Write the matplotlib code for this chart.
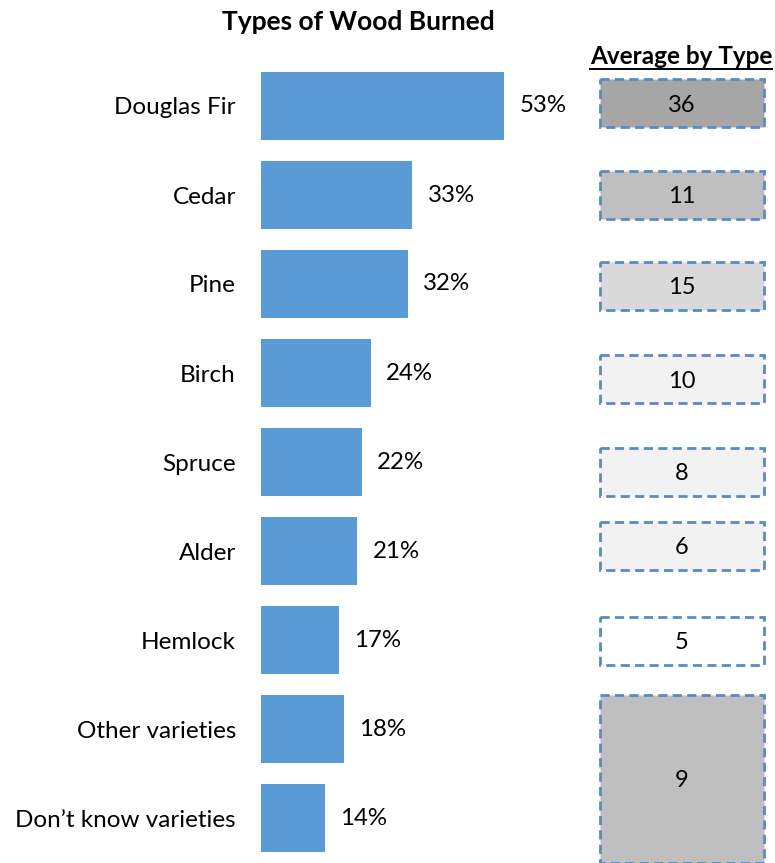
import matplotlib.pyplot as plt
from matplotlib.patches import Rectangle
from matplotlib.lines import Line2D

plt.rcParams['font.family'] = ['Lato', 'DejaVu Sans']

woods = ['Douglas Fir', 'Cedar', 'Pine', 'Birch', 'Spruce', 'Alder',
         'Hemlock', 'Other varieties', 'Don\u2019t know varieties']
share = [53, 33, 32, 24, 22, 21, 17, 18, 14]

# average by type: value, first row, last row it covers
avg_values = [36, 11, 15, 10, 8, 6, 5, 9]
avg_first = [0, 1, 2, 3, 4, 5, 6, 7]
avg_last = [0, 1, 2, 3, 4, 5, 6, 8]
avg_fill = ['#a6a6a6', '#bfbfbf', '#d9d9d9', '#f2f2f2', '#f2f2f2',
            '#f2f2f2', '#ffffff', '#bfbfbf']
box_nudge = [-0.03, 0.0, 0.02, 0.07, 0.11, -0.06, 0.01, 0.0]

W, H = 775, 863
fig = plt.figure(figsize=(W / 100, H / 100), dpi=100)

top_px, bot_px = 61.5, 862.5
ax = fig.add_axes([261 / W, 1 - bot_px / H, 319 / W, (bot_px - top_px) / H])
bars = ax.barh(range(len(woods)), share, height=0.76, color='#5b9bd5')
ax.set_xlim(0, 319 / 4.585)
ax.set_ylim(len(woods) - 0.5, -0.5)
ax.set_yticks(range(len(woods)), woods, fontsize=17.5)
ax.tick_params(axis='y', length=0, pad=18)
ax.set_xticks([])
for s in ax.spines.values():
    s.set_visible(False)
ax.bar_label(bars, labels=[f'{v}%' for v in share], padding=11, fontsize=17.3)

ax2 = fig.add_axes([600 / W, 1 - bot_px / H, 164 / W, (bot_px - top_px) / H])
ax2.set_xlim(0, 1)
ax2.set_ylim(len(woods) - 0.5, -0.5)
ax2.axis('off')
for v, a, b, c, n in zip(avg_values, avg_first, avg_last, avg_fill, box_nudge):
    if a == b:
        y0, y1 = a + n - 0.27, a + n + 0.27
    else:
        y0, y1 = a - 0.38, b + 0.5
    ax2.add_patch(Rectangle((0, y0), 1, y1 - y0, facecolor=c, edgecolor='#5a8ac6',
                            linewidth=2, linestyle=(0, (3.3, 1.9)), clip_on=False))
    ax2.text(0.5, (y0 + y1) / 2 + 0.02, str(v), ha='center', va='center', fontsize=17)

fig.text(358 / W, 1 - 22 / H, 'Types of Wood Burned', ha='center', va='center',
         fontsize=19, fontweight='bold')
t = fig.text(681 / W, 1 - 57 / H, 'Average by Type', ha='center', va='center',
             fontsize=17.5, fontweight='bold')
fig.canvas.draw()
bb = t.get_window_extent()
fig.add_artist(Line2D([bb.x0, bb.x1], [bb.y0 - 1, bb.y0 - 1], color='black',
                      linewidth=1.4, transform=None))

fig.savefig('out.png', dpi=100)
